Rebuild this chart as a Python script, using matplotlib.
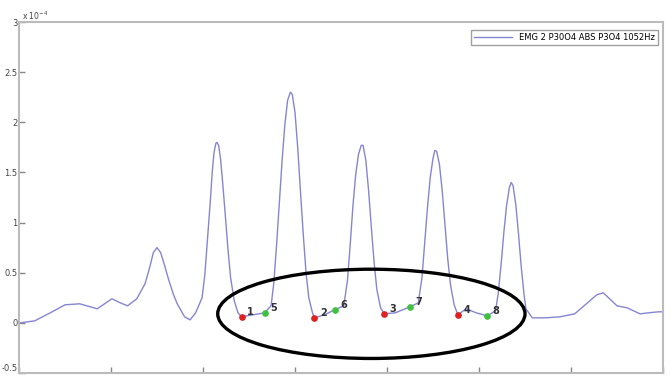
import matplotlib
matplotlib.use("Agg")
import matplotlib.pyplot as plt
from matplotlib.patches import Ellipse

# EMG envelope (x in s, amplitude in units of 1e-4)
t = [0.01, 0.17, 0.34, 0.50, 0.66, 0.85, 0.93, 1.01, 1.10, 1.18, 1.28,
     1.37, 1.42, 1.46, 1.50, 1.54, 1.58, 1.63, 1.68, 1.72, 1.80, 1.86, 1.92,
     1.99, 2.02, 2.05, 2.08, 2.10, 2.12, 2.14, 2.15, 2.17, 2.19, 2.21, 2.24, 2.27, 2.30, 2.34, 2.38,
     2.42, 2.54, 2.67,
     2.74, 2.77, 2.80, 2.83, 2.86, 2.89, 2.92, 2.95, 2.97, 3.00, 3.03, 3.06, 3.09, 3.12, 3.15, 3.19,
     3.21, 3.32, 3.43,
     3.53, 3.57, 3.60, 3.63, 3.66, 3.69, 3.72, 3.74, 3.77, 3.80, 3.83, 3.86, 3.89, 3.93, 3.97,
     4.09, 4.25,
     4.34, 4.38, 4.41, 4.44, 4.47, 4.50, 4.52, 4.54, 4.57, 4.60, 4.63, 4.66, 4.69, 4.73, 4.77,
     4.86, 4.97, 5.09,
     5.18, 5.21, 5.24, 5.27, 5.30, 5.33, 5.35, 5.37, 5.40, 5.43, 5.46, 5.49, 5.51,
     5.58, 5.72, 5.88, 6.04, 6.18, 6.28, 6.35, 6.42, 6.50, 6.61, 6.75, 6.84, 6.95, 7.00]
emg = [0.00, 0.02, 0.10, 0.18, 0.19, 0.14, 0.19, 0.24, 0.20, 0.17, 0.24,
       0.39, 0.55, 0.70, 0.75, 0.70, 0.58, 0.42, 0.28, 0.19, 0.06, 0.03, 0.10,
       0.25, 0.48, 0.85, 1.22, 1.50, 1.70, 1.79, 1.80, 1.77, 1.64, 1.44, 1.10, 0.75, 0.45, 0.22, 0.10,
       0.06, 0.08, 0.10,
       0.17, 0.40, 0.78, 1.20, 1.62, 1.98, 2.22, 2.30, 2.28, 2.10, 1.74, 1.30, 0.88, 0.50, 0.25, 0.10,
       0.05, 0.08, 0.13,
       0.17, 0.42, 0.78, 1.17, 1.48, 1.68, 1.77, 1.77, 1.62, 1.32, 0.95, 0.60, 0.33, 0.15, 0.09,
       0.10, 0.16,
       0.20, 0.45, 0.80, 1.15, 1.45, 1.64, 1.72, 1.71, 1.58, 1.32, 0.98, 0.64, 0.38, 0.18, 0.08,
       0.14, 0.10, 0.07,
       0.12, 0.30, 0.58, 0.90, 1.17, 1.35, 1.40, 1.37, 1.18, 0.88, 0.55, 0.28, 0.14,
       0.05, 0.05, 0.06, 0.09, 0.20, 0.28, 0.30, 0.24, 0.17, 0.15, 0.09, 0.10, 0.11, 0.11]

# contraction offsets (red) and onsets (green), with their labels
off_t = [2.42, 3.21, 3.97, 4.77]
off_y = [0.06, 0.05, 0.09, 0.08]
off_lbl = ["1", "2", "3", "4"]
on_t = [2.67, 3.43, 4.25, 5.09]
on_y = [0.10, 0.13, 0.16, 0.07]
on_lbl = ["5", "6", "7", "8"]

y_ticks = [-0.5, 0, 0.5, 1, 1.5, 2, 2.5, 3]
x_ticks = [0, 1, 2, 3, 4, 5, 6, 7]

fig = plt.figure(figsize=(6.72, 3.8), dpi=100)
ax = fig.add_axes([19 / 672, 7 / 380, 644 / 672, 351 / 380])

ax.plot(t, emg, color="#8585d4", lw=1.0, label="EMG 2 P30O4 ABS P3O4 1052Hz", zorder=2)
ax.plot(off_t, off_y, "o", ms=3.8, color="#e02020", mec="#e02020", zorder=4)
ax.plot(on_t, on_y, "o", ms=3.8, color="#40c040", mec="#40c040", zorder=4)
for xs, ys, ls in ((off_t, off_y, off_lbl), (on_t, on_y, on_lbl)):
    for x, y, s in zip(xs, ys, ls):
        ax.annotate(s, (x, y), xytext=(4, 0), textcoords="offset points",
                    fontsize=7, fontweight="bold", color="#333333", va="bottom", zorder=5)

ax.add_patch(Ellipse((3.83, 0.09), 3.34, 0.89, fill=False, ec="black", lw=2.4, zorder=3))

ax.set_xlim(0, 7)
ax.set_ylim(-0.5, 3)
ax.set_xticks(x_ticks)
ax.set_xticklabels([])
ax.set_yticks(y_ticks)
ax.set_yticklabels([f"{v:g}" for v in y_ticks])
ax.tick_params(direction="in", length=4, width=1, color="#888888",
               labelsize=6, labelcolor="#444444", pad=1)
ax.get_yticklabels()[0].set_verticalalignment("bottom")
for sp in ax.spines.values():
    sp.set_color("#bbbbbb")
    sp.set_linewidth(1.5)

leg = ax.legend(loc="upper right", fontsize=6, frameon=True, fancybox=False,
                edgecolor="#888888", handlelength=4.5, borderpad=0.4,
                bbox_to_anchor=(0.9985, 0.99))
leg.get_frame().set_linewidth(1.0)

fig.text(22 / 672, 1 - 16 / 380, r"x 10$^{-4}$", fontsize=5.5, color="#444444",
         va="center")

fig.savefig("out.png", dpi=100)
